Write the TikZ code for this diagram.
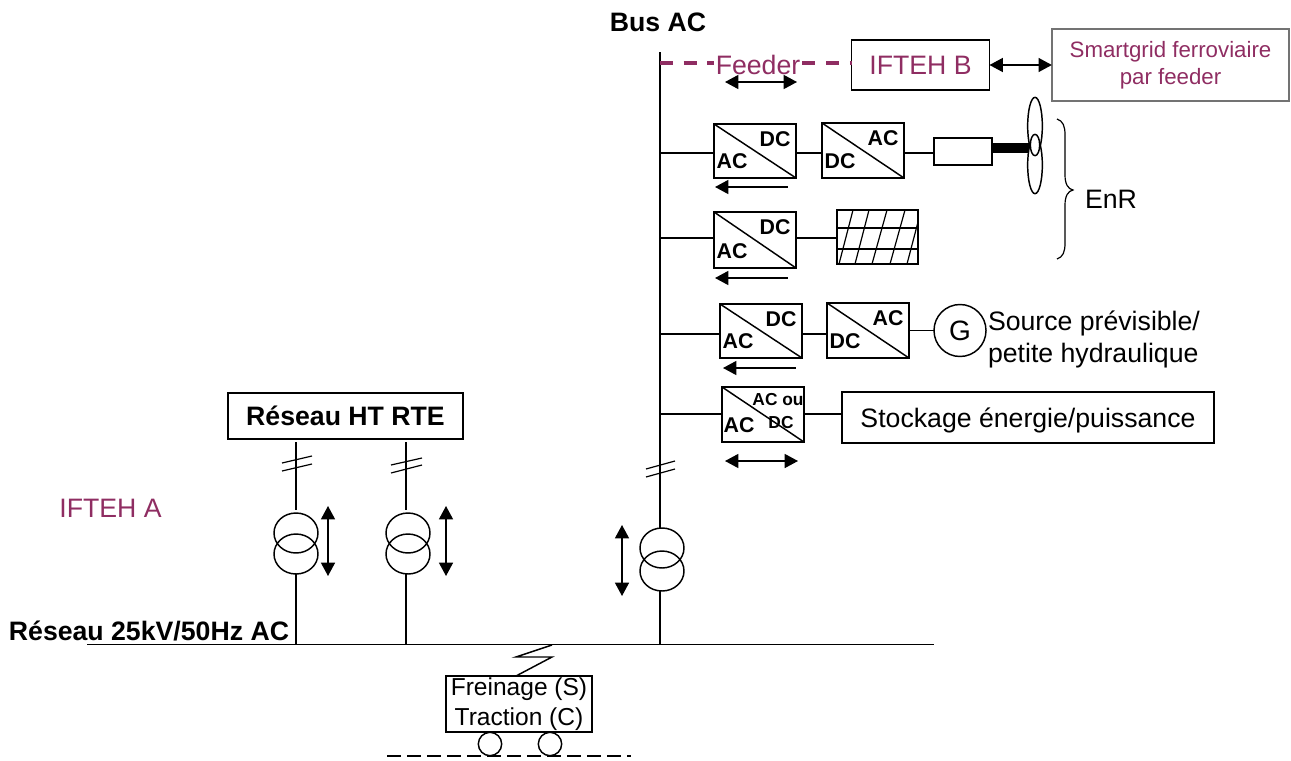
\documentclass[tikz,border=0pt]{standalone}
\usepackage{fontspec}
\setmainfont{Liberation Sans}
\usetikzlibrary{arrows.meta,shapes.geometric}
\definecolor{purp}{HTML}{8F2D62}
\newcommand{\fs}[1]{\fontsize{#1}{#1}\selectfont}
\tikzset{
  x=0.75pt,y=-0.75pt,
  wire/.style={line width=1.1pt,black},
  dbl/.style={wire,{Triangle[length=10pt,width=10.5pt]}-{Triangle[length=10pt,width=10.5pt]}},
  lft/.style={wire,{Triangle[length=10pt,width=10.5pt]}-},
  boxx/.style={draw,line width=1.1pt,inner sep=0pt,outer sep=0pt,align=center},
  lbl/.style={inner sep=0pt,outer sep=0pt,align=center},
  big/.style={lbl,font=\fs{20}},
  bigb/.style={lbl,font=\fs{20}\bfseries},
  cv/.style={lbl,font=\fs{16}\bfseries},
  cvs/.style={lbl,font=\fs{13}\bfseries},
  xfo/.style={draw,line width=1.1pt,ellipse,inner sep=0pt,outer sep=0pt,minimum width=33pt,minimum height=30pt},
  wheel/.style={draw,line width=1.1pt,circle,inner sep=0pt,outer sep=0pt,minimum size=17.5pt},
  feed/.style={line width=2.4pt,purp,dash pattern=on 9.8pt off 8pt},
  blade/.style={draw,line width=1.1pt,ellipse,fill=white,inner sep=0pt,outer sep=0pt},
}
\newcommand{\conv}[7]{%
  \node[boxx,minimum width={(#4-#2)*0.75pt},minimum height={(#5-#3)*0.75pt}] (#1) at ({(#2+#4)/2},{(#3+#5)/2}) {};
  \draw[wire] (#1.north west) -- (#1.south east);
  \node[cv] (#1lo) at ({#2+18},{#5-17}) {#6};
  \node[cv] (#1up) at ({#4-21},{#3+15}) {#7};}
\begin{document}
\begin{tikzpicture}
\useasboundingbox (0,0) rectangle (1291,760);
% labels
\node[bigb] (busl) at (658,22) {Bus AC};
\node[big,text=purp] (iftA) at (110.5,508) {IFTEH A};
\node[bigb] (res25) at (149,631) {Réseau 25kV/50Hz AC};
% transformers
\node[xfo] (t1a) at (296,533) {};
\node[xfo] (t1b) at (296,554) {};
\node[xfo] (t2a) at (408,533) {};
\node[xfo] (t2b) at (408,554) {};
\node[xfo] (t3a) at (662,548) {};
\node[xfo] (t3b) at (662,571) {};
% bus and rail
\coordinate (bt) at (660,52);
\coordinate (bm) at (660,528);
\coordinate (bn) at (660,591);
\coordinate (bb) at (660,645);
\draw[wire] (bt) -- (bm) (bn) -- (bb);
\coordinate (rl) at (87,644.5);
\coordinate (rr) at (934,644.5);
\draw[wire] (rl) -- (rr);
% IFTEH B and feeder
\node[boxx,minimum width=103.5pt,minimum height=37.5pt,font=\fs{20},text=purp] (iftB) at (920.5,65) {IFTEH B};
\coordinate (b0) at (660,63);
\draw[feed] (b0) -- (b0 -| iftB.west);
\node[big,text=purp,fill=white,inner ysep=0pt,inner xsep=1pt] (feeder) at (758,65) {Feeder};
\node[boxx,draw=black!55,minimum width=178pt,minimum height=54pt,font=\fontsize{16.7}{20}\selectfont,text=purp] (smart) at (1170.5,65) {Smartgrid ferroviaire\\par feeder};
\draw[dbl] (iftB.east) -- (smart.west);
\coordinate (fa1) at (725,82);
\coordinate (fa2) at (797,82);
\draw[dbl] (fa1) -- (fa2);
% row 1
\conv{ca}{714}{124}{796}{178}{AC}{DC}
\conv{cb}{822}{123}{904}{178}{DC}{AC}
\coordinate (b1) at (660,153);
\node[boxx,minimum width=43.5pt,minimum height=20.25pt] (gen) at (963,151.5) {};
\draw[wire] (b1) -- (b1 -| ca.west);
\draw[wire] (ca.east |- b1) -- (cb.west |- b1);
\draw[wire] (cb.east |- b1) -- (gen.west |- b1);
\coordinate (hub) at (1035,148);
\draw[line width=7pt] (gen.east |- hub) -- (hub);
\node[blade,minimum width=11pt,minimum height=43pt] (bl1) at (1035,126) {};
\node[blade,minimum width=11pt,minimum height=43pt] (bl2) at (1035,165) {};
\node[blade,minimum width=7pt,minimum height=16pt] (hubn) at (1035,145) {};
\coordinate (a1r) at (788,187);
\coordinate (a1l) at (715,187);
\draw[lft] (a1l) -- (a1r);
% brace
\draw[wire,line width=0.9pt] (1057,119) .. controls (1063,121) and (1065,126) .. (1065,135) -- (1065,175) .. controls (1065,184) and (1068,189) .. (1073,190) .. controls (1068,191) and (1065,196) .. (1065,205) -- (1065,243) .. controls (1065,252) and (1063,257) .. (1057,259);
\node[big] (enr) at (1111,199) {EnR};
% row 2
\conv{cc}{714}{212}{796}{268}{AC}{DC}
\coordinate (b2) at (660,238);
\node[boxx,minimum width=60.75pt,minimum height=40.5pt] (pv) at (877.5,237) {};
\draw[wire] (b2) -- (b2 -| cc.west);
\draw[wire] (cc.east |- b2) -- (pv.west |- b2);
\draw[wire] (837,228) -- (918,228) (837,249) -- (918,249);
\draw[wire,line width=0.9pt] (839,264) -- (853,210) (855,264) -- (869,210) (872,264) -- (887,210) (890,264) -- (905,210) (907,264) -- (918,222);
\coordinate (a2r) at (788,278);
\coordinate (a2l) at (715,278);
\draw[lft] (a2l) -- (a2r);
% row 3
\conv{cd}{720}{304}{802}{358}{AC}{DC}
\conv{ce}{827}{303}{909}{358}{DC}{AC}
\coordinate (b3) at (660,334);
\node[draw,line width=1.1pt,circle,inner sep=0pt,outer sep=0pt,minimum size=39pt,font=\fs{21}] (G) at (960,330.5) {G};
\draw[wire] (b3) -- (b3 -| cd.west);
\draw[wire] (cd.east |- b3) -- (ce.west |- b3);
\draw[wire] (ce.east) -- (G.west);
\node[lbl,font=\fontsize{20}{24}\selectfont,align=left,anchor=west] (src) at (988,339) {Source prévisible/\\petite hydraulique};
\coordinate (a3r) at (796,368);
\coordinate (a3l) at (723,368);
\draw[lft] (a3l) -- (a3r);
% row 4
\node[boxx,minimum width=61.5pt,minimum height=41.25pt] (cf) at (763,414.5) {};
\draw[wire] (cf.north west) -- (cf.south east);
\node[cv] (cflo) at (739,425) {AC};
\node[cvs] (cfu) at (778,400) {AC ou};
\node[cvs] (cfv) at (781,423) {DC};
\coordinate (b4) at (660,414);
\node[boxx,minimum width=279pt,minimum height=38.25pt,font=\fs{20}] (sto) at (1028,417.5) {\raisebox{-7.2pt}[0pt][0pt]{Stockage énergie/puissance}};
\draw[wire] (b4) -- (b4 -| cf.west);
\draw[wire] (cf.east |- b4) -- (sto.west |- b4);
\coordinate (a4l) at (725,461);
\coordinate (a4r) at (798,461);
\draw[dbl] (a4l) -- (a4r);
% RTE
\node[boxx,minimum width=176.25pt,minimum height=34.5pt,font=\fs{20}\bfseries] (rte) at (345.5,416) {Réseau HT RTE};
% transformer lines
\coordinate (l1t) at (296,442);
\coordinate (l1e) at (296,510);
\coordinate (l1b) at (296,574);
\coordinate (l1r) at (296,644);
\draw[wire] (l1t) -- (l1e) (l1b) -- (l1r);
\coordinate (l2t) at (406,442);
\coordinate (l2e) at (406,510);
\coordinate (l2b) at (406,574);
\coordinate (l2r) at (406,644);
\draw[wire] (l2t) -- (l2e) (l2b) -- (l2r);
% slashes
\draw[wire,line width=0.9pt] (282,463) -- (312,456) (282,471) -- (312,464);
\draw[wire,line width=0.9pt] (391,465) -- (422,458) (391,473) -- (422,465);
\draw[wire,line width=0.9pt] (646,469) -- (675,461) (646,477) -- (675,469);
% transformer arrows
\coordinate (v1a) at (328,506);
\coordinate (v1b) at (328,576);
\draw[dbl] (v1a) -- (v1b);
\coordinate (v2a) at (446,506);
\coordinate (v2b) at (446,576);
\draw[dbl] (v2a) -- (v2b);
\coordinate (v3a) at (622,525);
\coordinate (v3b) at (622,596);
\draw[dbl] (v3a) -- (v3b);
% train
\node[boxx,minimum width=109.5pt,minimum height=42pt,font=\fontsize{18.4}{22}\selectfont] (train) at (519,704) {Freinage (S)\\Traction (C)};
\coordinate (z1) at (552,645);
\coordinate (z2) at (516,676);
\draw[wire] (z1) -- (516,657) -- (552,657) -- (z2);
\node[wheel] (w1) at (490,744) {};
\node[wheel] (w2) at (550,744) {};
\coordinate (tr1) at (387,756);
\coordinate (tr2) at (631,756);
\draw[line width=1.1pt,dash pattern=on 10.5pt off 4.5pt] (tr1) -- (tr2);
\end{tikzpicture}
\end{document}
